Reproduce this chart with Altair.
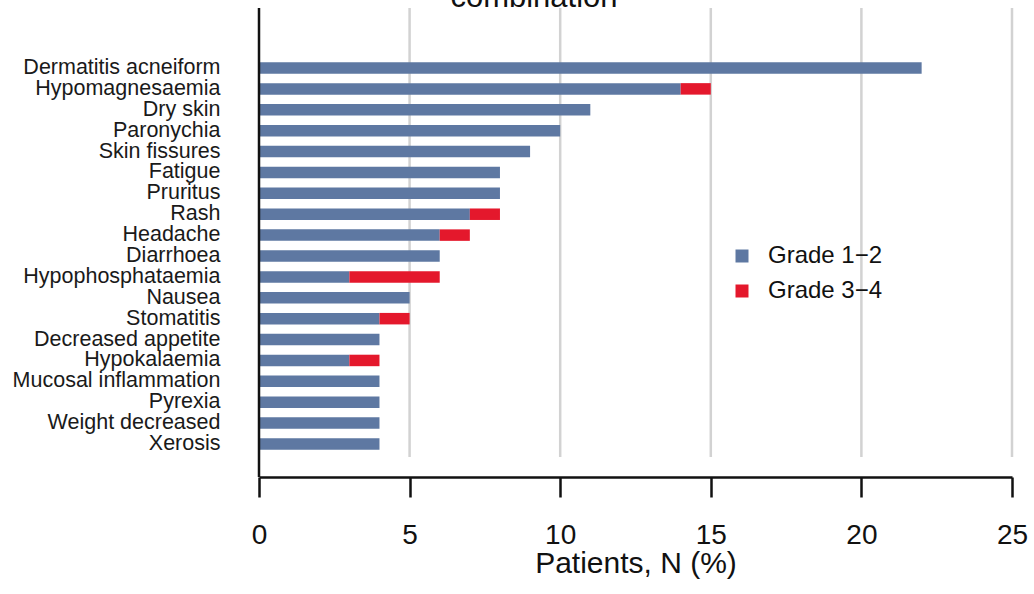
import altair as alt
import pandas as pd

# Adverse events, share of patients (%) by grade
events = [
    "Dermatitis acneiform", "Hypomagnesaemia", "Dry skin", "Paronychia",
    "Skin fissures", "Fatigue", "Pruritus", "Rash", "Headache", "Diarrhoea",
    "Hypophosphataemia", "Nausea", "Stomatitis", "Decreased appetite",
    "Hypokalaemia", "Mucosal inflammation", "Pyrexia", "Weight decreased",
    "Xerosis",
]
grade_1_2 = [22, 14, 11, 10, 9, 8, 8, 7, 6, 6, 3, 5, 4, 4, 3, 4, 4, 4, 4]
grade_3_4 = [0, 1, 0, 0, 0, 0, 0, 1, 1, 0, 3, 0, 1, 0, 1, 0, 0, 0, 0]
grade_names = ["Grade 1\u22122", "Grade 3\u22124"]
grade_colors = ["#5e78a2", "#e4182c"]
x_ticks = [0, 5, 10, 15, 20, 25]
grid_ticks = [5, 10, 15, 20, 25]
heading = ["combination"]

rows = []
for ev, g12, g34 in zip(events, grade_1_2, grade_3_4):
    rows.append({"event": ev, "grade": grade_names[0], "rank": 0, "value": g12})
    if g34:
        rows.append({"event": ev, "grade": grade_names[1], "rank": 1, "value": g34})
df = pd.DataFrame(rows)

FONT = "Liberation Sans"
INK = "#111111"
x_scale = alt.Scale(domain=[0, 25], nice=False, zero=True)
x_axis = alt.Axis(
    title="Patients, N (%)",
    values=x_ticks,
    grid=False,
    domainColor=INK,
    domainWidth=2.5,
    tickColor=INK,
    tickWidth=2.5,
    tickSize=20,
    labelFontSize=28,
    labelPadding=24,
    labelFlush=False,
    labelOverlap=False,
    labelColor=INK,
    labelFont=FONT,
    titleFont=FONT,
    titleFontSize=30,
    titleFontWeight="normal",
    titleColor=INK,
    titleBaseline="alphabetic",
    titleY=95,
)

# vertical reference lines at the major ticks
grid = alt.Chart(pd.DataFrame({"tick": grid_ticks})).mark_rule(
    color="#d2d2d2", strokeWidth=2.5
).encode(
    x=alt.X("tick:Q", scale=x_scale, axis=x_axis, title="Patients, N (%)"),
    y=alt.value(0),
    y2=alt.value(449),
)

# left axis line running the full plot height
y_line = alt.Chart(pd.DataFrame({"tick": [0]})).mark_rule(
    color=INK, strokeWidth=2.5
).encode(
    x=alt.X("tick:Q", scale=x_scale, axis=x_axis, title="Patients, N (%)"),
    y=alt.value(0),
    y2=alt.value(469),
)

bars = alt.Chart(df).mark_bar().encode(
    x=alt.X("value:Q", stack="zero", scale=x_scale, axis=x_axis,
            title="Patients, N (%)"),
    y=alt.Y(
        "event:N",
        sort=events,
        scale=alt.Scale(paddingInner=0.45, paddingOuter=0, range=[54.25, 441.75]),
        axis=alt.Axis(
            title=None,
            ticks=False,
            grid=False,
            domain=False,
            labelFontSize=21.5,
            labelFont=FONT,
            labelColor="#1a1a1a",
            labelPadding=39,
            labelLimit=400,
        ),
    ),
    color=alt.Color(
        "grade:N",
        scale=alt.Scale(domain=grade_names, range=grade_colors),
        legend=alt.Legend(
            title=None,
            orient="none",
            legendX=471,
            legendY=236,
            symbolType="square",
            symbolSize=169,
            symbolStrokeWidth=0,
            labelFontSize=24,
            labelFont=FONT,
            labelColor=INK,
            labelOffset=14,
            rowPadding=11,
            padding=0,
        ),
    ),
    order=alt.Order("rank:Q"),
)

title_text = alt.Chart(pd.DataFrame({"t": heading})).mark_text(
    font=FONT, fontSize=31, color=INK, align="center", baseline="alphabetic"
).encode(
    text="t:N",
    x=alt.value(275),
    y=alt.value(-1),
)

chart = alt.layer(grid, bars, y_line, title_text).properties(
    width=753,
    height=469,
    autosize=alt.AutoSizeParams(type="none"),
    padding={"left": 259, "right": 22, "top": 8, "bottom": 117},
    background="white",
).configure_view(stroke=None)

chart.save("out.html", embed_options={"renderer": "svg", "actions": False})
